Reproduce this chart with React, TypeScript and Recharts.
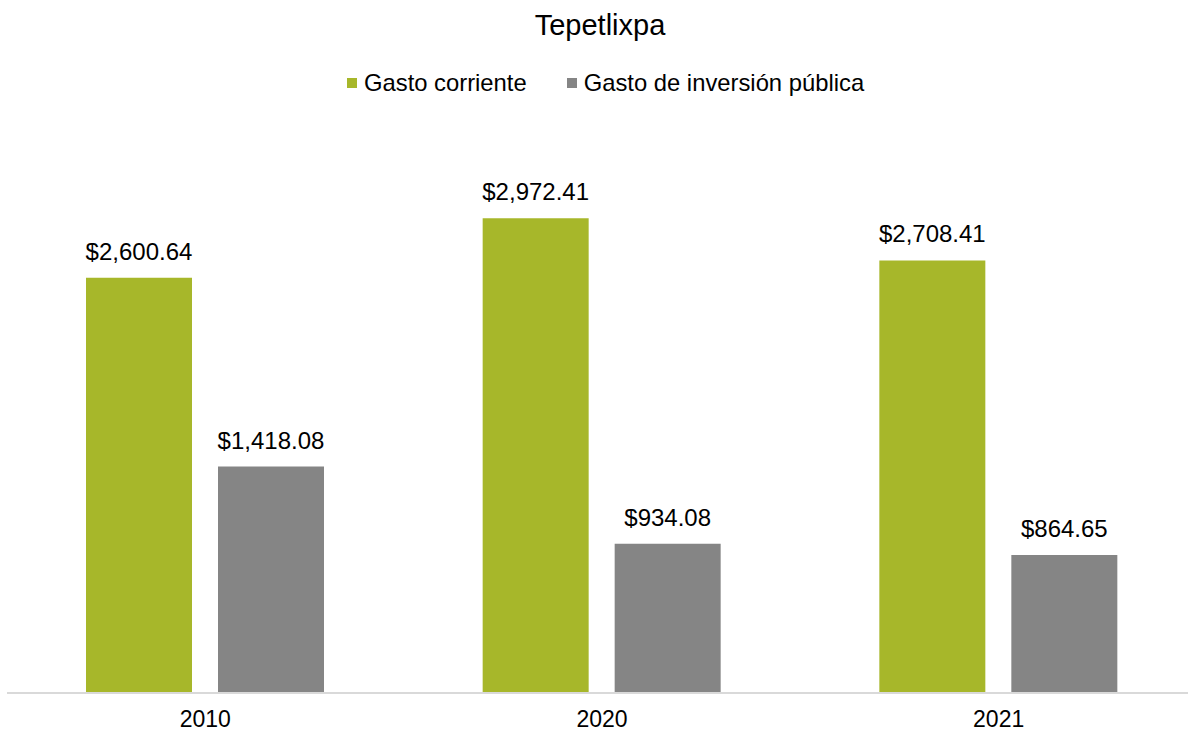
import { BarChart, Bar, XAxis, YAxis, LabelList } from "recharts";

const years = ["2010", "2020", "2021"];
const gastoCorriente = [2600.64, 2972.41, 2708.41];
const gastoInversion = [1418.08, 934.08, 864.65];
const seriesNames = ["Gasto corriente", "Gasto de inversión pública"];
const seriesColors = ["#a7b72a", "#858585"];

const data = years.map((y, i) => ({
  year: y,
  corriente: gastoCorriente[i],
  inversion: gastoInversion[i],
}));

const FONT = "'Liberation Sans', Arial, sans-serif";

const money = (v: any) =>
  "$" +
  Number(v).toLocaleString("en-US", {
    minimumFractionDigits: 2,
    maximumFractionDigits: 2,
  });

export default function App() {
  return (
    <div
      style={{
        position: "absolute",
        left: 0,
        top: 0,
        width: 1188,
        height: 733,
        overflow: "hidden",
        background: "#fff",
        fontFamily: FONT,
      }}
    >
      <div
        style={{
          position: "absolute",
          top: 8,
          left: 0,
          width: 1200,
          textAlign: "center",
          fontSize: 29,
          lineHeight: "34px",
          color: "#000",
        }}
      >
        Tepetlixpa
      </div>
      <div
        style={{
          position: "absolute",
          top: 70,
          left: 347,
          display: "flex",
          alignItems: "center",
          fontSize: 23.8,
          lineHeight: "26px",
          color: "#000",
        }}
      >
        {seriesNames.map((n, i) => (
          <div
            key={n}
            style={{ display: "flex", alignItems: "center", marginRight: i === 0 ? 40 : 0 }}
          >
            <span
              style={{
                display: "inline-block",
                width: 10,
                height: 10,
                background: seriesColors[i],
                marginRight: 7,
              }}
            />
            <span>{n}</span>
          </div>
        ))}
      </div>
      <BarChart
        width={1200}
        height={733}
        data={data}
        margin={{ top: 134, right: 3, left: 7, bottom: 0 }}
        barSize={106}
        barGap={26}
      >
        <XAxis
          dataKey="year"
          height={40}
          tickLine={false}
          axisLine={{ stroke: "#d9d9d9", strokeWidth: 2 }}
          tickMargin={12}
          tick={{ fontSize: 23, fill: "#000", fontFamily: FONT }}
        />
        <YAxis hide domain={[0, 3500]} />
        <Bar dataKey="corriente" name={seriesNames[0]} fill={seriesColors[0]} isAnimationActive={false}>
          <LabelList
            dataKey="corriente"
            position="top"
            offset={18}
            formatter={money}
            style={{ fontSize: 24, fill: "#000", fontFamily: FONT }}
          />
        </Bar>
        <Bar dataKey="inversion" name={seriesNames[1]} fill={seriesColors[1]} isAnimationActive={false}>
          <LabelList
            dataKey="inversion"
            position="top"
            offset={18}
            formatter={money}
            style={{ fontSize: 24, fill: "#000", fontFamily: FONT }}
          />
        </Bar>
      </BarChart>
    </div>
  );
}
